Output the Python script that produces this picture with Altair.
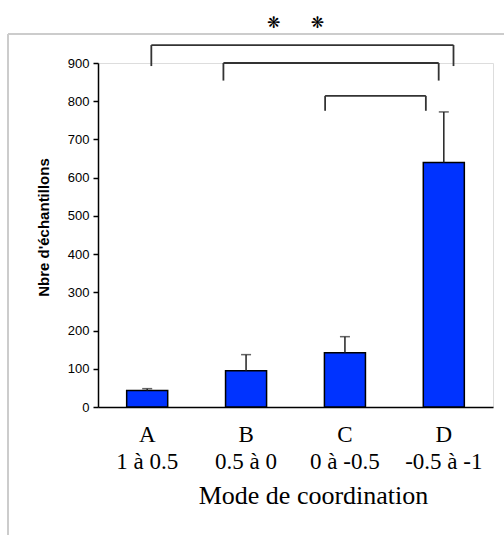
import altair as alt
import pandas as pd

# Bar chart: number of samples per coordination mode, with SD error bars
categories = ["A", "B", "C", "D"]
ranges = ["1 à 0.5", "0.5 à 0", "0 à -0.5", "-0.5 à -1"]
means = [43, 95, 142, 640]
errors = [5, 42, 42, 132]

# Significance brackets (positions on a 0-4 category axis, heights in samples)
bracket_start = [0.54, 1.27, 2.30]
bracket_end = [3.60, 3.45, 3.32]
bracket_top = [947, 900, 814]
bracket_foot = [892, 854, 775]

NB = "\u00a0"
df = pd.DataFrame({
    "cat": categories,
    "label": [c + "|" + r for c, r in zip(categories, ranges)],
    "mean": means,
    "err": errors,
})
df["top"] = df["mean"] + df["err"]

br = pd.DataFrame({
    "x0": bracket_start, "x1": bracket_end,
    "ytop": bracket_top, "yfoot": bracket_foot,
})

W, H = 395, 344

yscale = alt.Scale(domain=[0, 900])
band = alt.Scale(paddingInner=0.585, paddingOuter=0.29)
xenc = alt.X(
    "label:N",
    sort=None,
    scale=band,
    axis=alt.Axis(
        title="Mode de coordination",
        labelExpr="split(datum.label, '|')",
        labelAngle=0,
        labelFont="Liberation Serif",
        labelFontSize=23,
        labelColor="black",
        labelPadding=16,
        labelLineHeight=27,
        ticks=False,
        domainColor="black",
        domainWidth=1.5,
        titleFont="Liberation Serif",
        titleFontSize=26,
        titleFontWeight="normal",
        titleColor="black",
        titlePadding=9,
        titleX=215,
    ),
)
yaxis = alt.Axis(
    title="Nbre d'échantillons",
    values=[0, 100, 200, 300, 400, 500, 600, 700, 800, 900],
    labelOverlap=False,
    grid=False,
    tickSize=5,
    tickColor="black",
    tickWidth=1.5,
    domainColor="black",
    domainWidth=1.5,
    labelFont="Liberation Sans",
    labelFontSize=13,
    labelColor="black",
    labelPadding=4,
    titleFont="Liberation Sans",
    titleFontSize=15,
    titleFontWeight="bold",
    titleColor="black",
    titlePadding=16,
    titleY=164,
)

bars = alt.Chart(df).mark_bar(
    color="#0033ff", stroke="black", strokeWidth=1.5
).encode(
    x=xenc,
    y=alt.Y("mean:Q", scale=yscale, axis=yaxis),
)

whisker = alt.Chart(df).mark_rule(color="#222222", strokeWidth=1.5).encode(
    x=alt.X("label:N", sort=None, scale=band, axis=None),
    y=alt.Y("mean:Q", scale=yscale, axis=yaxis),
    y2="top:Q",
)
caps = alt.Chart(df).mark_tick(
    color="#222222", thickness=1.5, size=10, orient="horizontal"
).encode(
    x=alt.X("label:N", sort=None, scale=band, axis=None),
    y=alt.Y("top:Q", scale=yscale, axis=yaxis),
)

bx = alt.Scale(domain=[0, 4])
hline = alt.Chart(br).mark_rule(color="#333333", strokeWidth=1.8).encode(
    x=alt.X("x0:Q", scale=bx, axis=None), x2="x1:Q",
    y=alt.Y("ytop:Q", scale=yscale, axis=yaxis),
)
left_leg = alt.Chart(br).mark_rule(color="#333333", strokeWidth=1.8).encode(
    x=alt.X("x0:Q", scale=bx, axis=None),
    y=alt.Y("ytop:Q", scale=yscale, axis=yaxis), y2="yfoot:Q",
)
right_leg = alt.Chart(br).mark_rule(color="#333333", strokeWidth=1.8).encode(
    x=alt.X("x1:Q", scale=bx, axis=None),
    y=alt.Y("ytop:Q", scale=yscale, axis=yaxis), y2="yfoot:Q",
)

# light grey frame around the figure
frame_left = alt.Chart(df).mark_rule(color="#cccccc", strokeWidth=2).encode(
    x=alt.value(-90), y=alt.value(-29), y2=alt.value(H + 130)
)
frame_top = alt.Chart(df).mark_rule(color="#cccccc", strokeWidth=2).encode(
    x=alt.value(-90), x2=alt.value(W + 20), y=alt.value(-29)
)

chart = alt.layer(
    frame_left, frame_top, bars, whisker, caps, hline, left_leg, right_leg
).resolve_scale(x="independent").properties(
    width=W,
    height=H,
    title=alt.TitleParams(
        "❋" + "\u2002" + NB * 4 + "❋",
        font="DejaVu Sans",
        fontSize=16,
        color="black",
        offset=2,
        anchor="middle",
    ),
    autosize=alt.AutoSizeParams(type="none"),
    padding={"left": 98, "top": 63, "right": 11, "bottom": 128},
).configure_view(strokeWidth=0).configure(background="white")

chart.save("out.html", embed_options={"renderer": "svg", "actions": False})
